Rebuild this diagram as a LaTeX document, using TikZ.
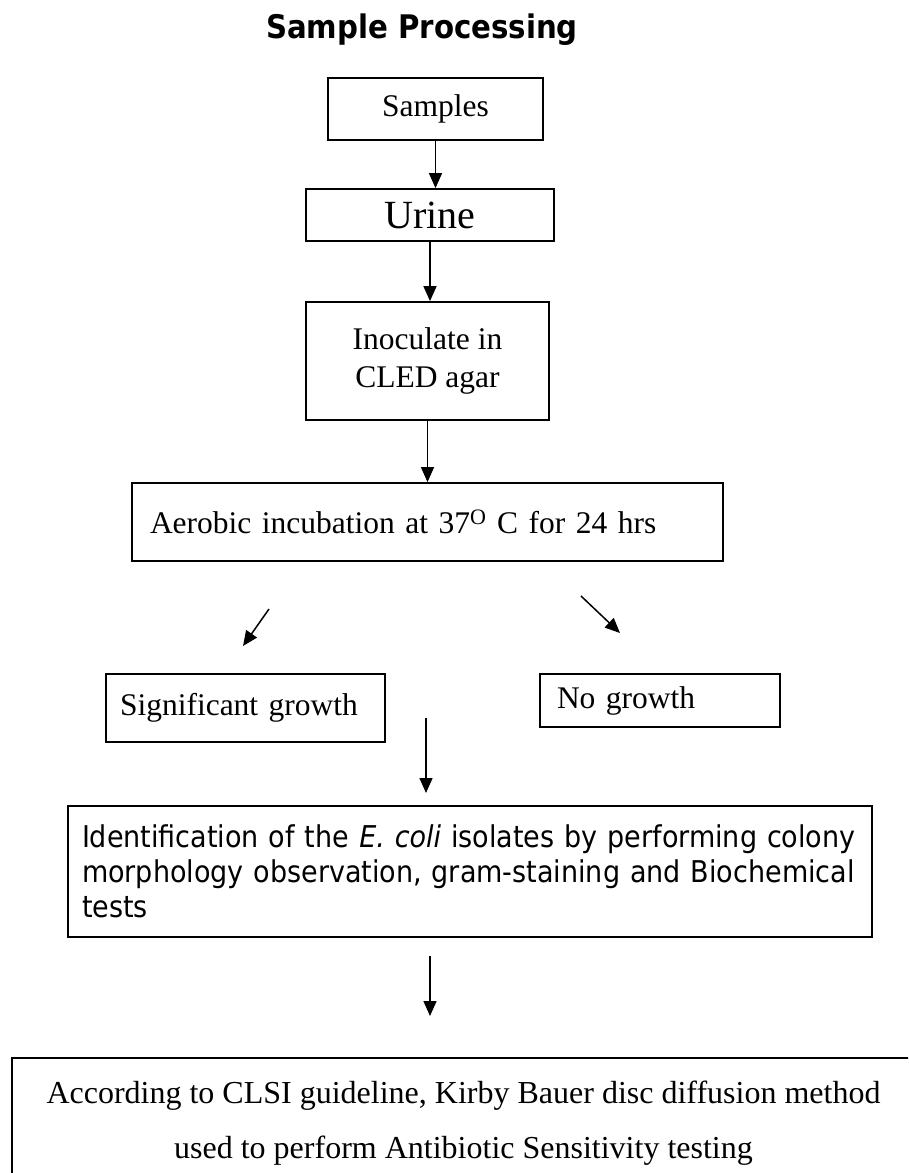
\documentclass[tikz,border=0pt]{standalone}
\usepackage{fontspec}
\setmainfont{Liberation Serif}
\newfontfamily\tahoma{DejaVu Sans Condensed}
\usetikzlibrary{arrows.meta}

\tikzset{
  stage/.style={draw, line width=1.8pt, inner sep=0pt, align=center,
    font=\fontsize{31.5}{38}\selectfont},
  flow/.style={-{Triangle[length=15pt,width=13pt]}, line width=1.5pt},
}

\begin{document}
\begin{tikzpicture}[x=1pt,y=-1pt]
            \clip (0,0) rectangle (908,1173);
            \node[anchor=base, font=\tahoma\bfseries\fontsize{32.5}{38}\selectfont] (title) at (422,38) {Sample Processing};
            \node[stage, minimum width=215pt, minimum height=62pt] (samples) at (435.5,109) {Samples};
            \node[stage, minimum width=248pt, minimum height=52pt, font=\fontsize{40}{46}\selectfont] (urine) at (430,215) {Urine};
            \node[stage, minimum width=243pt, minimum height=118pt] (inoculate) at (427.5,361) {Inoculate in\\CLED agar};
            \node[stage, text width=555pt, inner xsep=18pt, minimum height=78pt, align=left] (aerobic) at (427.5,522) {Aerobic incubation at 37\textsuperscript{O} C for 24 hrs};
            \node[stage, text width=251pt, inner xsep=14pt, minimum height=68pt, align=left] (growth) at (245.5,708) {Significant growth};
            \node[stage, text width=206pt, inner xsep=17pt, minimum height=53pt, align=left] (nogrowth) at (660,700.5) {No growth};
            \node[stage, text width=776pt, inner xsep=14pt, minimum height=131pt, align=left, font=\tahoma\fontsize{30}{35}\selectfont] (identify) at (470,871.5) {Identification of the \textit{E. coli} isolates by performing colony\\morphology observation, gram-staining and Biochemical\\tests};
            \node[stage, minimum width=903pt, minimum height=130pt, font=\fontsize{32}{55}\selectfont] (sensitivity) at (463.5,1123) {According to CLSI guideline, Kirby Bauer disc diffusion method\\used to perform Antibiotic Sensitivity testing};
            \coordinate (leftfrom) at (269,609);
            \coordinate (leftto) at (243,646);
            \coordinate (rightfrom) at (581,596);
            \coordinate (rightto) at (620,633);
            \coordinate (midfrom) at (426,718);
            \coordinate (midto) at (426,793);
            \coordinate (lowfrom) at (430,956);
            \coordinate (lowto) at (430,1016);
            \draw[flow] (samples.south) -- (samples.south |- urine.north);
            \draw[flow] (urine.south) -- (urine.south |- inoculate.north);
            \draw[flow] (inoculate.south) -- (inoculate.south |- aerobic.north);
            \draw[flow] (leftfrom) -- (leftto);
            \draw[flow] (rightfrom) -- (rightto);
            \draw[flow] (midfrom) -- (midto);
            \draw[flow] (lowfrom) -- (lowto);
        \end{tikzpicture}
\end{document}
